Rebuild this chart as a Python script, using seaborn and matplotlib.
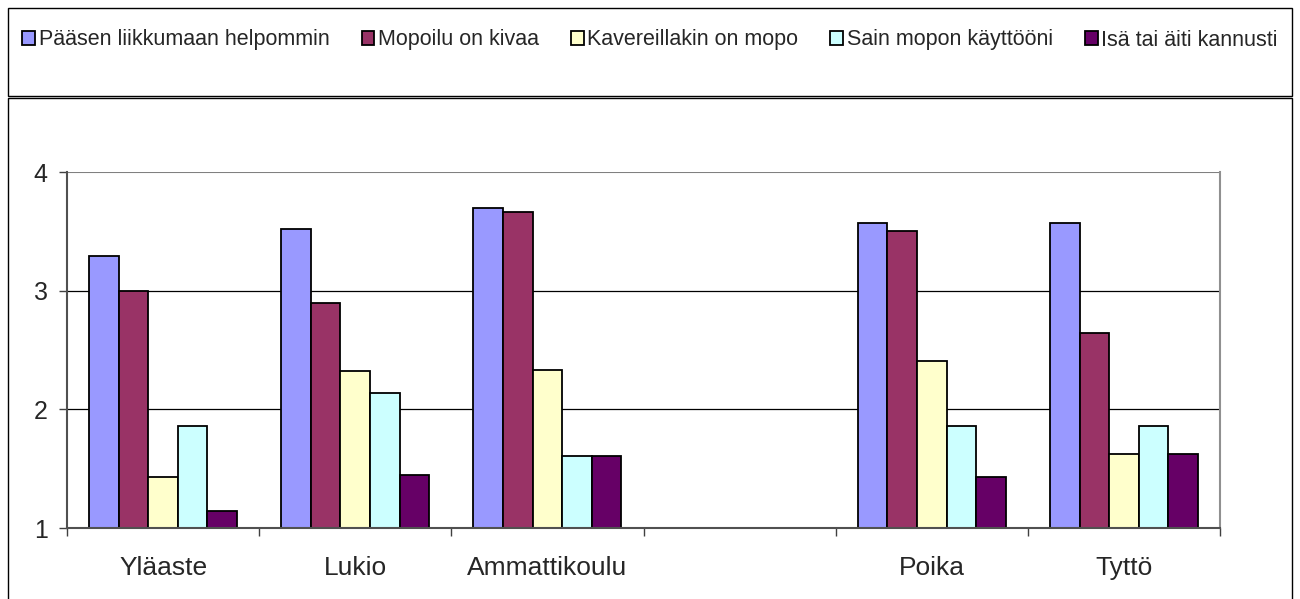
import numpy as np
import pandas as pd
import matplotlib
matplotlib.use("Agg")
import matplotlib.pyplot as plt
import seaborn as sns
from matplotlib.patches import Rectangle

# data
categories = ["Yläaste", "Lukio", "Ammattikoulu", "", "Poika", "Tyttö"]
series = ["Pääsen liikkumaan helpommin", "Mopoilu on kivaa", "Kavereillakin on mopo",
          "Sain mopon käyttööni", "Isä tai äiti kannusti"]
helpommin = [3.29, 3.52, 3.70, np.nan, 3.57, 3.57]
kivaa = [3.00, 2.90, 3.66, np.nan, 3.50, 2.64]
kavereilla = [1.43, 2.32, 2.33, np.nan, 2.41, 1.62]
kayttoon = [1.86, 2.14, 1.61, np.nan, 1.86, 1.86]
kannusti = [1.14, 1.45, 1.61, np.nan, 1.43, 1.62]
colors = ["#9999FF", "#993366", "#FFFFCC", "#CCFFFF", "#660066"]

df = pd.DataFrame({"kategoria": categories, series[0]: helpommin, series[1]: kivaa,
                   series[2]: kavereilla, series[3]: kayttoon, series[4]: kannusti})
long = df.melt(id_vars="kategoria", var_name="syy", value_name="arvo")

sns.set_style("white")
plt.rcParams["font.family"] = ["Liberation Sans", "DejaVu Sans"]

W, H = 1300, 599
fig = plt.figure(figsize=(W / 100, H / 100), dpi=100)
ax = fig.add_axes([67 / W, 1 - 528 / H, (1220 - 67) / W, (528 - 172) / H])

sns.barplot(data=long, x="kategoria", y="arvo", hue="syy", order=categories,
            hue_order=series, palette=colors, width=0.77, errorbar=None,
            edgecolor="black", linewidth=1.3, ax=ax, saturation=1, legend=True)

ax.set_ylim(1, 4)
ax.set_xlim(-0.5, len(categories) - 0.5)
ax.set_yticks([1, 2, 3, 4])
ax.set_yticklabels(["1", "2", "3", "4"], fontsize=18)
ax.tick_params(axis="y", length=6, width=1, color="#404040", pad=8, left=True)

# ticks between categories, labels at centres
ax.set_xticks(np.arange(-0.5, len(categories)), minor=False)
ax.set_xticklabels([""] * (len(categories) + 1))
ax.set_xticks(np.arange(len(categories)), minor=True)
ax.set_xticklabels(categories, minor=True, fontsize=19)
ax.tick_params(axis="x", which="major", length=6, width=1, color="#404040", bottom=True)
ax.tick_params(axis="x", which="minor", length=0, pad=20)
ax.set_xlabel("")
ax.set_ylabel("")

for v in [2, 3]:
    ax.axhline(v, color="black", linewidth=0.9, zorder=0)
ax.axhline(4, color="#808080", linewidth=1.5, zorder=0)
for s in ["left", "bottom"]:
    ax.spines[s].set_color("#505050")
    ax.spines[s].set_linewidth(1.5)
ax.spines["right"].set_color("#909090")
ax.spines["right"].set_linewidth(1.5)
ax.spines["top"].set_visible(False)

handles, labels = ax.get_legend_handles_labels()
ax.get_legend().remove()
fig.legend(handles, labels, loc="center", bbox_to_anchor=(0.5, 1 - 40 / H), ncol=5,
           frameon=False, fontsize=15.5, handlelength=0.6, handleheight=0.6,
           handletextpad=0.15, columnspacing=1.5)

# outer boxes
fig.add_artist(Rectangle((8 / W, 1 - 96 / H), 1284 / W, 88 / H,
                         transform=fig.transFigure, fill=False, edgecolor="black", linewidth=1))
fig.add_artist(Rectangle((8 / W, -0.05), 1284 / W, 1.05 - 98 / H,
                         transform=fig.transFigure, fill=False, edgecolor="black", linewidth=1))

fig.savefig("out.png", dpi=100)
